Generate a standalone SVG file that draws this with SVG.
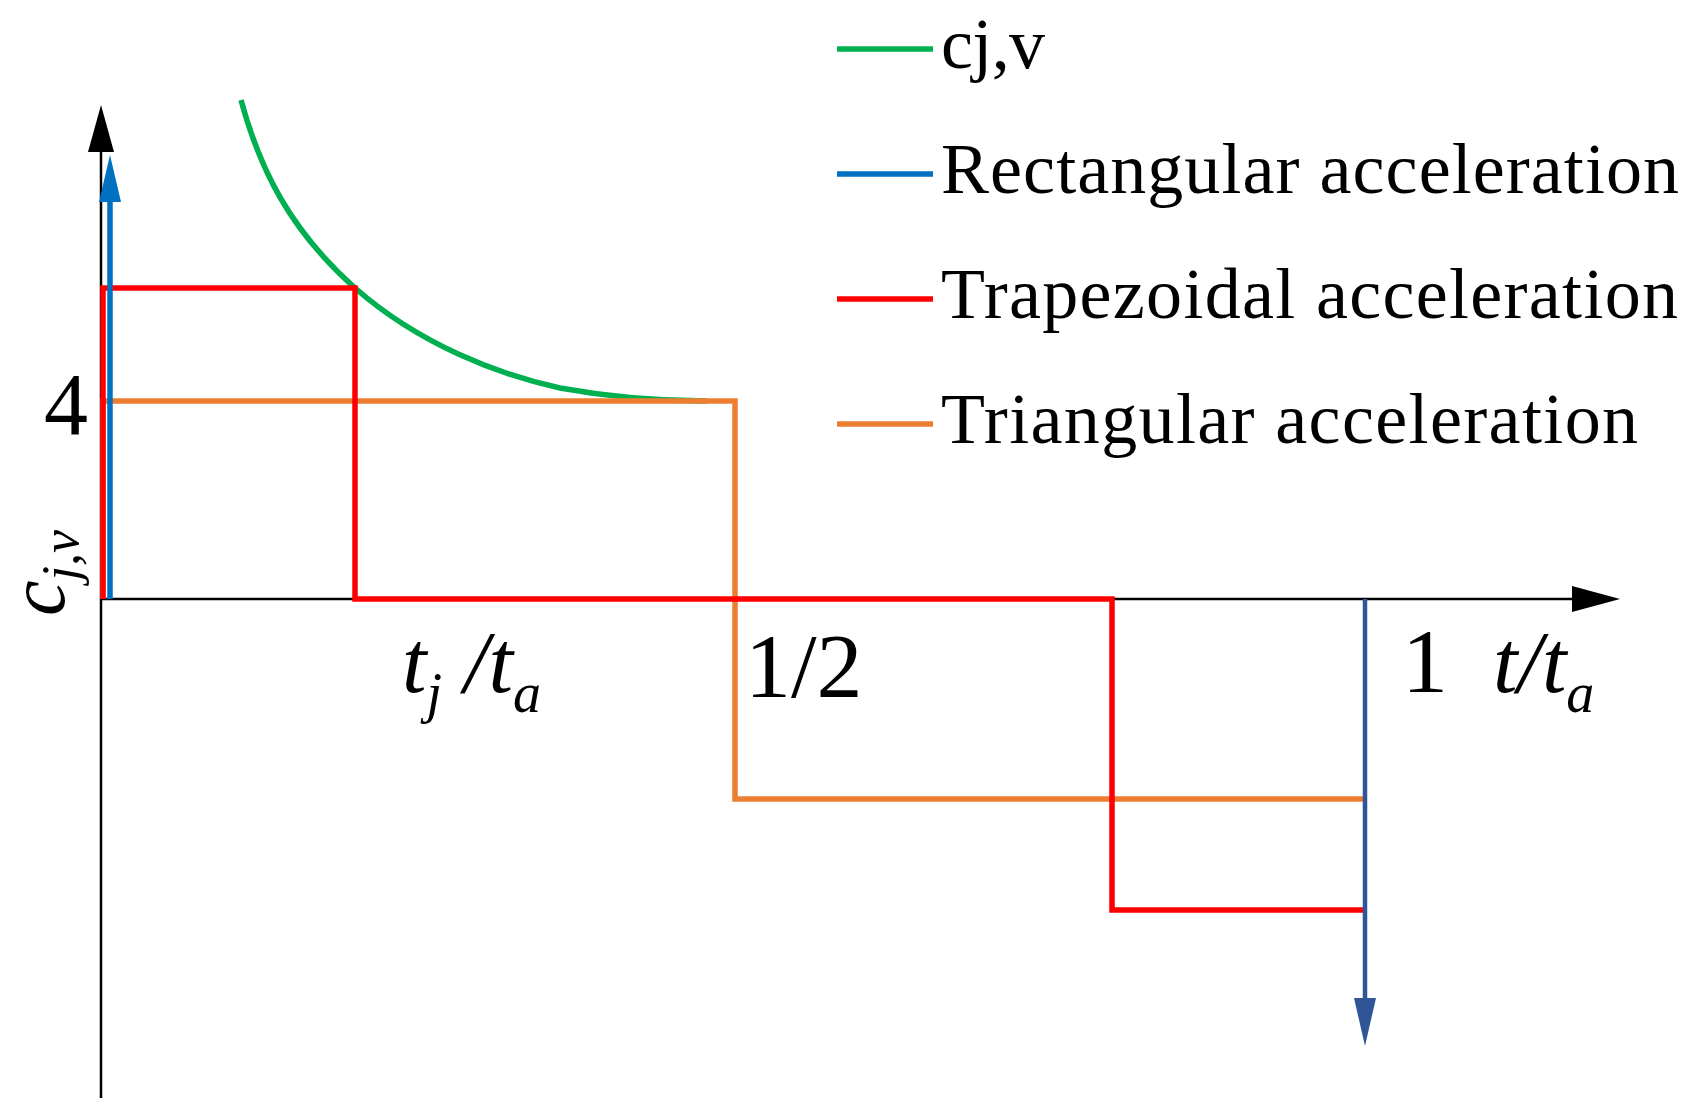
<svg xmlns="http://www.w3.org/2000/svg" width="1703" height="1113" viewBox="0 0 1703 1113">
<style>
text{font-family:"Liberation Serif",serif;fill:#000}
.it{font-style:italic}
.c{fill:none;stroke-width:5.5}
</style>
<rect width="1703" height="1113" fill="#fff"/>
<g id="axes">
<line x1="101" y1="1098" x2="101" y2="150" stroke="#000" stroke-width="2.5"/>
<path d="M101,105L88,152L114,152z" fill="#000"/>
<line x1="101" y1="599" x2="1575" y2="599" stroke="#000" stroke-width="2.5"/>
<path d="M1620,599L1572,586L1572,612z" fill="#000"/>
</g>
<g id="connectors">
<path id="green" class="c" stroke="#00B050" d="M241,100 C260,170 290,230 355,288 C420,345 500,375 560,388 C620,399 670,401 707,401"/>
<path id="orange" class="c" stroke="#ED7D31" d="M103,599 L103,401 L735,401 L735,799 L1364,799"/>
<path id="red" class="c" stroke="#FF0000" d="M103,599 L103,288 L355,288 L355,599 L1112,599 L1112,910 L1364,910"/>
<g id="blueup"><line x1="110" y1="599" x2="110" y2="195" stroke="#0070C0" stroke-width="5.5"/><path d="M110,155L99,202L121,202z" fill="#0070C0"/></g>
<g id="bluedown"><line x1="1365" y1="599" x2="1365" y2="1000" stroke="#2F5597" stroke-width="4.5"/><path d="M1365,1046L1354,998L1376,998z" fill="#2F5597"/></g>
</g>
<g id="labels">
<text x="66" y="434" font-size="88" text-anchor="middle">4</text>
<text class="it" transform="translate(64,616) rotate(-90)" font-size="80">c<tspan font-size="52" dy="14">j,v</tspan></text>
<text class="it" x="402" y="692" font-size="88">t<tspan font-size="56" dy="20">j</tspan><tspan dy="-20"> /t</tspan><tspan font-size="56" dy="20">a</tspan></text>
<text x="745" y="697" font-size="92">1/2</text>
<text x="1402" y="692" font-size="92">1</text>
<text class="it" x="1493" y="692" font-size="88">t/t<tspan font-size="56" dy="20">a</tspan></text>
</g>
<g id="legend">
<line x1="837" y1="49" x2="933" y2="49" stroke="#00B050" stroke-width="5.5"/>
<line x1="837" y1="174" x2="933" y2="174" stroke="#0070C0" stroke-width="5.5"/>
<line x1="837" y1="299" x2="933" y2="299" stroke="#FF0000" stroke-width="5.5"/>
<line x1="837" y1="424" x2="933" y2="424" stroke="#ED7D31" stroke-width="5.5"/>
<text x="941" y="68" font-size="72" textLength="104">cj,v</text>
<text x="941" y="193" font-size="72" textLength="738">Rectangular acceleration</text>
<text x="941" y="318" font-size="72" textLength="737">Trapezoidal acceleration</text>
<text x="941" y="443" font-size="72" textLength="697">Triangular acceleration</text>
</g>
</svg>
